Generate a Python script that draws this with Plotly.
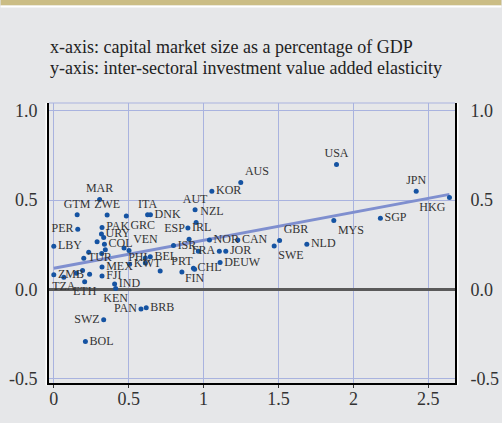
import plotly.graph_objects as go

# ---- data ----
countries = ["MAR", "GTM", "ZWE", "GRC", "ITA", "DNK", "PER", "PAK", "URY", "",
             "LBY", "", "COL", "", "", "", "PHL", "VEN", "TUR", "MEX",
             "KWT", "", "BEL", "", "", "ZMB", "TZA", "", "", "",
             "ETH", "FJI", "IND", "KEN", "PAN", "BRB", "SWZ", "BOL", "ISR", "",
             "FRA", "JOR", "NOR", "CAN", "IRL", "ESP", "AUT", "NZL", "KOR", "AUS",
             "DEUW", "CHL", "FIN", "PRT", "USA", "JPN", "HKG", "MYS", "SGP", "GBR",
             "SWE", "NLD"]
cap_size = [0.306, 0.156, 0.356, 0.484, 0.626, 0.645, 0.160, 0.322, 0.318, 0.333,
            0.000, 0.289, 0.338, 0.344, 0.320, 0.233, 0.469, 0.502, 0.200, 0.322,
            0.506, 0.611, 0.644, 0.611, 0.710, 0.000, 0.067, 0.151, 0.192, 0.239,
            0.206, 0.322, 0.406, 0.413, 0.582, 0.617, 0.333, 0.211, 0.799, 0.965,
            1.105, 1.148, 1.039, 1.228, 0.895, 0.903, 0.943, 0.950, 1.055, 1.248,
            1.110, 0.932, 0.940, 0.855, 1.887, 2.419, 2.641, 1.869, 2.180, 1.507,
            1.471, 1.689]
elasticity = [0.503, 0.418, 0.417, 0.411, 0.418, 0.418, 0.336, 0.347, 0.310, 0.291,
              0.241, 0.267, 0.252, 0.221, 0.200, 0.207, 0.232, 0.217, 0.174, 0.125,
              0.141, 0.176, 0.183, 0.148, 0.103, 0.082, 0.067, 0.090, 0.105, 0.085,
              0.043, 0.075, 0.030, 0.005, -0.110, -0.103, -0.170, -0.293, 0.245, 0.213,
              0.213, 0.213, 0.277, 0.277, 0.344, 0.280, 0.446, 0.374, 0.549, 0.598,
              0.150, 0.118, 0.113, 0.097, 0.699, 0.549, 0.514, 0.385, 0.398, 0.273,
              0.243, 0.252]
label_pos = ["top center", "top center", "top center", "bottom right", "top center",
             "middle right", "middle left", "middle right", "middle right", "middle right",
             "middle right", "middle right", "middle right", "middle right", "middle right",
             "middle right", "bottom right", "top right", "middle right", "middle right",
             "middle right", "middle right", "middle right", "middle right", "middle right",
             "middle right", "bottom center", "middle right", "middle right", "middle right",
             "bottom center", "middle right", "middle right", "bottom center", "middle left",
             "middle right", "middle left", "middle right", "middle right", "middle right",
             "middle left", "middle right", "middle right", "middle right", "middle right",
             "top left", "top center", "top right", "middle right", "top right",
             "middle right", "middle right", "bottom center", "top center", "top center",
             "top center", "bottom left", "bottom right", "middle right", "top right",
             "bottom right", "middle right"]

fit_x = [0.0, 2.641]
fit_y = [0.118, 0.532]

x_ticks = [0, 0.5, 1, 1.5, 2, 2.5]
x_ticktext = ["0", "0.5", "1", "1.5", "2", "2.5"]
y_ticks = [-0.5, 0.0, 0.5, 1.0]
y_ticktext = ["-0.5", "0.0", "0.5", "1.0"]

title_lines = ["x-axis: capital market size as a percentage of GDP",
               "y-axis: inter-sectoral investment value added elasticity"]

# ---- style ----
BG = "#e6e7e9"
GRID = "#a9b3df"
FIT = "#7f8fcf"
DOT = "#1553a2"
TXT = "#333333"
FONT = "Liberation Serif, Times New Roman, serif"

W, H = 502, 423
L, R, T, B = 48.5, 46.5, 103, 40
XR = [-0.032, 2.678]
YR = [-0.525, 1.044]

fig = go.Figure()
fig.add_trace(go.Scatter(x=fit_x, y=fit_y, mode="lines",
                         line=dict(color=FIT, width=3), hoverinfo="skip",
                         showlegend=False))
fig.add_trace(go.Scatter(x=cap_size, y=elasticity, mode="markers+text",
                         text=countries, textposition=label_pos,
                         textfont=dict(family=FONT, size=12, color=TXT),
                         marker=dict(color=DOT, size=5),
                         cliponaxis=False, showlegend=False))
# invisible trace so the mirrored right axis is drawn
fig.add_trace(go.Scatter(x=[0], y=[0], yaxis="y2", mode="markers",
                         marker=dict(opacity=0), hoverinfo="skip", showlegend=False))

axis_font = dict(family=FONT, size=18, color=TXT)
fig.update_layout(
    width=W, height=H,
    margin=dict(l=L, r=R, t=T, b=B, pad=0, autoexpand=False),
    paper_bgcolor=BG, plot_bgcolor=BG,
    font=dict(family=FONT, color=TXT),
    xaxis=dict(range=XR, tickvals=x_ticks, ticktext=x_ticktext,
               showgrid=True, gridcolor=GRID, gridwidth=1, zeroline=False,
               showline=True, linecolor="black", linewidth=2,
               ticks="outside", ticklen=3, tickcolor="#333", tickwidth=1,
               ticklabelstandoff=-5, automargin=False,
               tickfont=axis_font, fixedrange=True),
    yaxis=dict(range=YR, tickvals=y_ticks, ticktext=y_ticktext,
               showgrid=True, gridcolor=GRID, gridwidth=1,
               zeroline=True, zerolinecolor="#5a5a5a", zerolinewidth=2.5,
               showline=True, linecolor="black", linewidth=2, mirror=False,
               ticks="", ticklabelstandoff=6, automargin=False,
               tickfont=axis_font, fixedrange=True),
    yaxis2=dict(range=YR, tickvals=y_ticks, ticktext=y_ticktext,
                overlaying="y", side="right", showgrid=False, zeroline=False,
                showline=True, linecolor="black", linewidth=2,
                ticks="", ticklabelstandoff=10, automargin=False,
                tickfont=axis_font, fixedrange=True),
)

pw = W - L - R
ph = H - T - B

def px_to_paper_x(px):
    return (px - L) / pw

def px_to_paper_y(py):
    return (H - B - py) / ph

shapes = [
    # top frame line in grid colour
    dict(type="line", xref="paper", yref="paper", x0=0, x1=1, y0=1, y1=1,
         line=dict(color=GRID, width=1.2)),
    # white outline just outside the black axis lines
    dict(type="line", xref="paper", yref="paper",
         x0=px_to_paper_x(L - 2.5), x1=px_to_paper_x(L - 2.5), y0=-0.008, y1=1,
         line=dict(color="#ffffff", width=2), layer="below"),
    dict(type="line", xref="paper", yref="paper",
         x0=px_to_paper_x(W - R + 2.5), x1=px_to_paper_x(W - R + 2.5), y0=-0.008, y1=1,
         line=dict(color="#ffffff", width=2), layer="below"),
    # gold band at the very top
    dict(type="rect", xref="paper", yref="paper",
         x0=px_to_paper_x(0), x1=px_to_paper_x(W),
         y0=px_to_paper_y(5.5), y1=px_to_paper_y(0),
         fillcolor="#cbbd85", line=dict(width=0), layer="above"),
    dict(type="rect", xref="paper", yref="paper",
         x0=px_to_paper_x(0), x1=px_to_paper_x(W),
         y0=px_to_paper_y(7.5), y1=px_to_paper_y(5.5),
         fillcolor="#ffffff", line=dict(width=0), layer="above"),
]
fig.update_layout(shapes=shapes)

annotations = []
for i, line in enumerate(title_lines):
    annotations.append(dict(text=line, xref="paper", yref="paper",
                            x=px_to_paper_x(47), y=px_to_paper_y(46.5 + 21.7 * i),
                            xanchor="left", yanchor="middle", showarrow=False,
                            font=dict(family=FONT, size=18, color="#222222")))
fig.update_layout(annotations=annotations)

fig.write_html("out.html", config={"displayModeBar": False},
               post_script="document.body.style.margin='0';")
